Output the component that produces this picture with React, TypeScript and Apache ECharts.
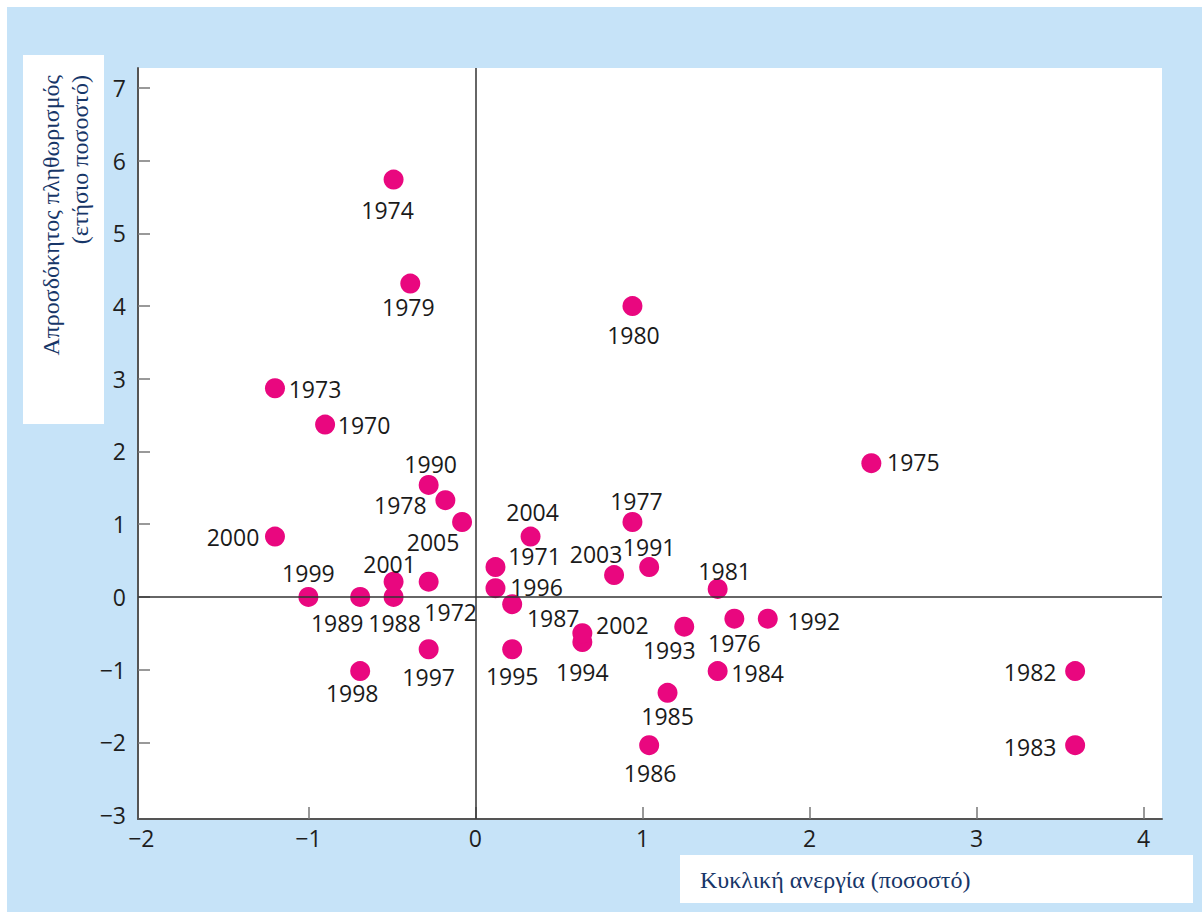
import React, { useEffect, useRef } from 'react';
import * as echarts from 'echarts';

const years = [
  '1970', '1971', '1972', '1973', '1974', '1975', '1976', '1977', '1978', '1979',
  '1980', '1981', '1982', '1983', '1984', '1985', '1986', '1987', '1988', '1989',
  '1990', '1991', '1992', '1993', '1994', '1995', '1996', '1997', '1998', '1999',
  '2000', '2001', '2002', '2003', '2004', '2005',
];
const unemployment = [
  -0.90, 0.12, -0.28, -1.20, -0.49, 2.37, 1.55, 0.94, -0.18, -0.39,
  0.94, 1.45, 3.59, 3.59, 1.45, 1.15, 1.04, 0.22, -0.49, -0.69,
  -0.28, 1.04, 1.75, 1.25, 0.64, 0.22, 0.12, -0.28, -0.69, -1.00,
  -1.20, -0.49, 0.64, 0.83, 0.33, -0.08,
];
const inflation = [
  2.37, 0.41, 0.21, 2.87, 5.74, 1.84, -0.30, 1.03, 1.33, 4.31,
  4.00, 0.11, -1.02, -2.04, -1.02, -1.32, -2.04, -0.10, 0.00, 0.00,
  1.54, 0.41, -0.30, -0.41, -0.62, -0.72, 0.12, -0.72, -1.02, 0.00,
  0.83, 0.21, -0.50, 0.30, 0.83, 1.03,
];
const xTickLabels = [-2, -1, 0, 1, 2, 3, 4];
const xTickMarks = [-1, 0, 1, 2, 3, 4];
const yTickLabels = [-3, -2, -1, 0, 1, 2, 3, 4, 5, 6, 7];
const yTickMarks = [-2, -1, 0, 1, 2, 3, 4, 5, 6, 7];
const xTitle = 'Κυκλική ανεργία (ποσοστό)';
const yTitleLines = ['Απροσδόκητος πληθωρισμός', '(ετήσιο ποσοστό)'];

// label placement (label centre relative to point centre, px)
const labelOffsets: Record<string, [number, number]> = {
  '1970': [39, 0], '1971': [39, -11], '1972': [22, 30], '1973': [40, 1], '1974': [-6, 30],
  '1975': [42, -1], '1976': [0, 24], '1977': [4, -21], '1978': [-45, 5], '1979': [-2, 23],
  '1980': [1, 29], '1981': [7, -18], '1982': [-45, 1], '1983': [-45, 2], '1984': [40, 2],
  '1985': [0, 23], '1986': [1, 28], '1987': [41, 14], '1988': [1, 26], '1989': [-23, 26],
  '1990': [2, -21], '1991': [0, -20], '1992': [46, 2], '1993': [-15, 23], '1994': [0, 30],
  '1995': [0, 27], '1996': [41, -1], '1997': [0, 28], '1998': [-8, 22], '1999': [0, -24],
  '2000': [-42, 0], '2001': [-4, -18], '2002': [40, -8], '2003': [-18, -21], '2004': [2, -25],
  '2005': [-29, 20],
};

const fmt = (v: number) => (v < 0 ? '\u2212' + Math.abs(v) : String(v));

export default function App() {
  const ref = useRef<HTMLDivElement>(null);
  useEffect(() => {
    if (!ref.current) return;
    const chart = echarts.init(ref.current, undefined, { renderer: 'svg' });
    const sans = '"Open Sans", "Noto Sans", sans-serif';
    const serif = '"Liberation Serif", "DejaVu Serif", serif';
    const titleColor = '#173668';
    chart.setOption({
      animation: false,
      backgroundColor: '#c6e3f8',
      grid: {
        left: 131, top: 61, width: 1024, height: 751,
        show: true, backgroundColor: '#ffffff', borderWidth: 0,
      },
      xAxis: {
        type: 'value', min: -2.02, max: 4.11,
        splitLine: { show: false },
        axisLine: { show: true, onZero: false, lineStyle: { color: '#555', width: 2 } },
        axisTick: { show: true, inside: true, length: 12, customValues: xTickMarks, lineStyle: { color: '#777', width: 1.5 } },
        axisLabel: { customValues: xTickLabels, formatter: fmt, fontFamily: sans, fontSize: 23, color: '#1e1e1e', margin: 7 },
      },
      yAxis: {
        type: 'value', min: -3.055, max: 7.275,
        splitLine: { show: false },
        axisLine: { show: true, onZero: false, lineStyle: { color: '#555', width: 2 } },
        axisTick: { show: true, inside: true, length: 12, customValues: yTickMarks, lineStyle: { color: '#777', width: 1.5 } },
        axisLabel: { customValues: yTickLabels, formatter: fmt, fontFamily: sans, fontSize: 23, color: '#1e1e1e', margin: 12 },
      },
      series: [
        {
          type: 'scatter',
          symbol: 'circle',
          symbolSize: 20,
          itemStyle: { color: '#e9077f', opacity: 1 },
          data: years.map((y, i) => ({
            name: y,
            value: [unemployment[i], inflation[i]],
            label: { offset: labelOffsets[y] },
          })),
          label: {
            show: true,
            position: 'inside',
            formatter: '{b}',
            align: 'center',
            verticalAlign: 'middle',
            fontFamily: sans,
            fontSize: 23,
            lineHeight: 23,
            color: '#1a1a1a',
            textBorderWidth: 0,
          },
          emphasis: { disabled: true },
          markLine: {
            silent: true,
            symbol: 'none',
            label: { show: false },
            lineStyle: { color: '#333', width: 1.5, type: 'solid' },
            data: [{ xAxis: 0 }, { yAxis: 0 }],
          },
        },
      ],
      graphic: [
        { type: 'rect', shape: { x: 16, y: 48, width: 81, height: 369 }, style: { fill: '#ffffff' } },
        {
          type: 'text', x: 44, y: 68, rotation: Math.PI / 2,
          style: { text: yTitleLines[0], fill: titleColor, font: `24px ${serif}`, align: 'right', verticalAlign: 'middle' },
        },
        {
          type: 'text', x: 73, y: 68, rotation: Math.PI / 2,
          style: { text: yTitleLines[1], fill: titleColor, font: `24px ${serif}`, align: 'right', verticalAlign: 'middle' },
        },
        { type: 'rect', shape: { x: 673, y: 848, width: 513, height: 48 }, style: { fill: '#ffffff' } },
        {
          type: 'text', x: 693, y: 873,
          style: { text: xTitle, fill: titleColor, font: `24px ${serif}`, align: 'left', verticalAlign: 'middle' },
        },
      ],
    });
    return () => chart.dispose();
  }, []);
  return (
    <div
      ref={ref}
      style={{ position: 'absolute', left: 7, top: 7, width: 1195, height: 905 }}
    />
  );
}
